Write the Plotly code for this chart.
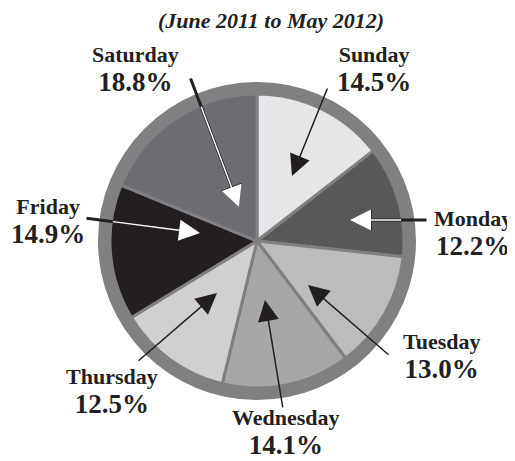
import math
import plotly.graph_objects as go

# ---- data ----
days = ["Sunday", "Monday", "Tuesday", "Wednesday", "Thursday", "Friday", "Saturday"]
shares = [14.5, 12.2, 13.0, 14.1, 12.5, 14.9, 18.8]
pct_labels = ["14.5%", "12.2%", "13.0%", "14.1%", "12.5%", "14.9%", "18.8%"]
title_text = "(June 2011 to May 2012)"

# ---- styling ----
slice_colors = ["#e6e6e8", "#58585b", "#bcbcbe", "#a7a7aa", "#d0d0d2", "#231f20", "#6d6e71"]
ring_color = "#808083"
ink = "#231f20"
W, H = 515, 461          # window size
OFF = 8                  # default page body margin
FW, FH = W - OFF, H - OFF
CX, CY = 257, 241        # pie centre (window pixels from top-left)
R_OUT, R_IN = 159, 147   # ring outer radius, pie radius

# label placement (window pixels): label block centre, arrow tail, arrow tip, arrow colour
label_pos = {
    "Sunday":    dict(c=(374, 69), tail=(328, 87), tip=(292, 176), col="black"),
    "Monday":    dict(c=(473, 233), tail=(428, 220), tip=(350, 220), col="white"),
    "Tuesday":   dict(c=(441, 356), tail=(390, 356), tip=(308, 285), col="black"),
    "Wednesday": dict(c=(286, 432), tail=(283, 409), tip=(265, 300), col="black"),
    "Thursday":  dict(c=(112, 391), tail=(137, 362), tip=(217, 293), col="black"),
    "Friday":    dict(c=(48, 221), tail=(85, 218), tip=(200, 233), col="white"),
    "Saturday":  dict(c=(135, 69), tail=(190, 77), tip=(239, 207), col="white"),
}

fig = go.Figure()

# invisible cartesian trace so pixel-like axes exist for annotations/shapes
fig.add_trace(go.Scatter(x=[OFF], y=[OFF], mode="markers", marker=dict(opacity=0),
                         hoverinfo="skip", showlegend=False))

fig.add_trace(go.Pie(
    labels=days, values=shares, sort=False, direction="clockwise", rotation=0,
    marker=dict(colors=slice_colors, line=dict(color=ring_color, width=3)),
    textinfo="none", hoverinfo="label+percent", showlegend=False,
    domain=dict(x=[(CX - R_IN - OFF) / FW, (CX + R_IN - OFF) / FW],
                y=[(H - (CY + R_IN)) / FH, (H - (CY - R_IN)) / FH]),
))

# outer grey ring behind the pie
fig.add_shape(type="circle", xref="x", yref="y", layer="below",
              x0=CX - R_OUT, x1=CX + R_OUT, y0=CY - R_OUT, y1=CY + R_OUT,
              fillcolor=ring_color, line=dict(width=0))


def circle_entry(tail, tip, r):
    """point where segment tail->tip crosses circle of radius r about centre"""
    (x0, y0), (x1, y1) = tail, tip
    dx, dy = x1 - x0, y1 - y0
    fx, fy = x0 - CX, y0 - CY
    a = dx * dx + dy * dy
    b = 2 * (fx * dx + fy * dy)
    c = fx * fx + fy * fy - r * r
    disc = b * b - 4 * a * c
    if disc < 0:
        return tail
    t = (-b - math.sqrt(disc)) / (2 * a)
    t = min(max(t, 0), 1)
    return (x0 + t * dx, y0 + t * dy)


anns = []
serif = "Liberation Serif, Times New Roman, serif"
label_font = dict(family=serif, size=22.5, color=ink)

for d, pct in zip(days, pct_labels):
    p = label_pos[d]
    txt = (f"<span style='font-size:22px'><b>{d}</b></span><br>"
           f"<span style='font-size:27px'><b>{pct}</b></span>")
    anns.append(dict(x=p["c"][0], y=p["c"][1], xref="x", yref="y", text=txt,
                     showarrow=False, font=label_font, xanchor="center", yanchor="middle",
                     align="center"))
    tail, tip = p["tail"], p["tip"]
    if p["col"] == "black":
        anns.append(dict(x=tip[0], y=tip[1], ax=tail[0], ay=tail[1], xref="x", yref="y",
                         axref="x", ayref="y", text="", showarrow=True, arrowhead=2,
                         arrowsize=2.8, arrowwidth=1.5, arrowcolor=ink,
                         standoff=0, startstandoff=0))
    else:
        entry = circle_entry(tail, tip, R_IN)
        # black outline of whole arrow
        anns.append(dict(x=tip[0], y=tip[1], ax=tail[0], ay=tail[1], xref="x", yref="y",
                         axref="x", ayref="y", text="", showarrow=True, arrowhead=2,
                         arrowsize=1.45, arrowwidth=3, arrowcolor=ink,
                         standoff=0, startstandoff=0))
        # white part inside pie
        anns.append(dict(x=tip[0], y=tip[1], ax=entry[0], ay=entry[1], xref="x", yref="y",
                         axref="x", ayref="y", text="", showarrow=True, arrowhead=2,
                         arrowsize=2.8, arrowwidth=1.5, arrowcolor="white",
                         standoff=0, startstandoff=0))

anns.append(dict(x=271, y=20, xref="x", yref="y", text=f"<b><i>{title_text}</i></b>",
                 showarrow=False, font=dict(family=serif, size=22, color=ink),
                 xanchor="center", yanchor="middle"))

fig.update_layout(
    width=FW, height=FH, margin=dict(l=0, r=0, t=0, b=0),
    paper_bgcolor="white", plot_bgcolor="white",
    xaxis=dict(range=[OFF, W], visible=False, fixedrange=True),
    yaxis=dict(range=[H, OFF], visible=False, fixedrange=True),
    annotations=anns, showlegend=False,
)

fig.write_html("out.html")
